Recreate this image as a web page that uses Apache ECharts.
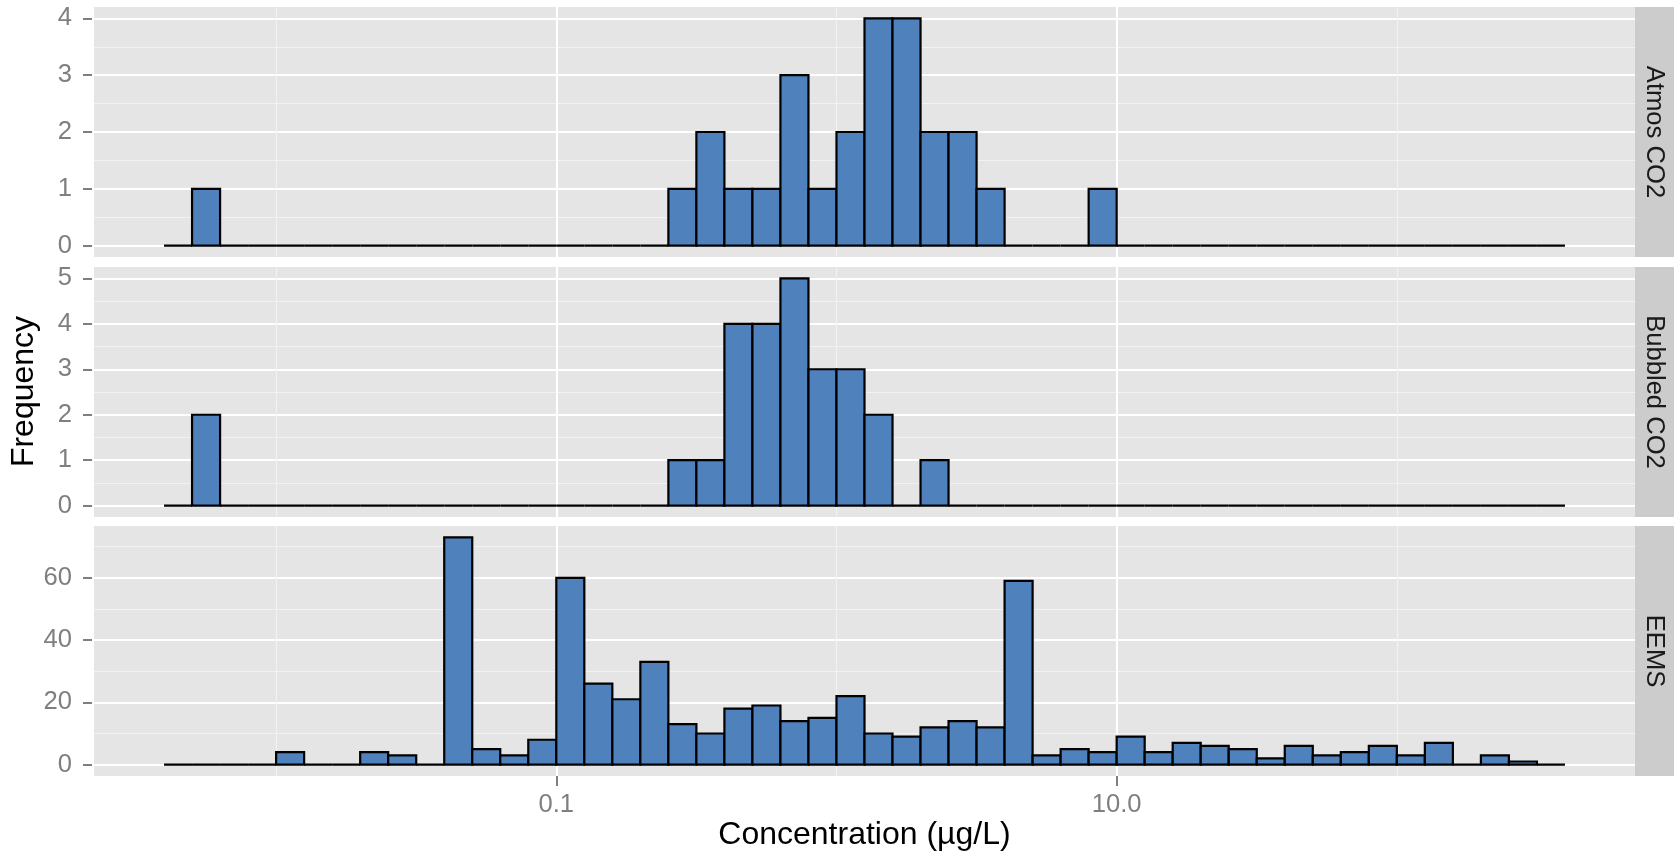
<!DOCTYPE html>
<html><head><meta charset="utf-8">
<script src="https://cdn.jsdelivr.net/npm/echarts@6/dist/echarts.min.js"></script>
<style>html,body{margin:0;padding:0;background:#fff}#c{width:1674px;height:854px}</style>
</head><body><div id="c"></div>
<script>
// ---- data ----
const binStartLog10 = -2.4;     // left edge of first bin, log10(µg/L)
const binWidthLog10 = 0.1;      // bin width in log10 units
const panelNames = ['Atmos CO2', 'Bubbled CO2', 'EEMS'];
const atmosCO2 = [0,1,0,0,0,0,0,0,0,0, 0,0,0,0,0,0,0,0,1,2, 1,1,3,1,2,4,4,2,2,1, 0,0,0,1,0,0,0,0,0,0, 0,0,0,0,0,0,0,0,0,0];
const bubbledCO2 = [0,2,0,0,0,0,0,0,0,0, 0,0,0,0,0,0,0,0,1,1, 4,4,5,3,3,2,0,1,0,0, 0,0,0,0,0,0,0,0,0,0, 0,0,0,0,0,0,0,0,0,0];
const eems = [0,0,0,0,4,0,0,4,3,0, 73,5,3,8,60,26,21,33,13,10, 18,19,14,15,22,10,9,12,14,12, 59,3,5,4,9,4,7,6,5,2, 6,3,4,6,3,7,0,3,1,0];
const xTickValues = [0.1, 10];
const xTickLabels = ['0.1', '10.0'];
const xMinorValues = [0.01, 1, 100];
const yTicks = [[0,1,2,3,4], [0,1,2,3,4,5], [0,20,40,60]];
const yMinor = [[0.5,1.5,2.5,3.5], [0.5,1.5,2.5,3.5,4.5], [10,30,50,70]];
const xTitle = 'Concentration (µg/L)';
const yTitle = 'Frequency';

// ---- layout / style ----
const counts = [atmosCO2, bubbledCO2, eems];
const FONT = "'Liberation Sans', Arial, Helvetica, sans-serif";
const GRID_LEFT = 94, GRID_RIGHT = 39, GRID_H = 250;
const gridTops = [7, 267, 526];
const nBins = eems.length;
const dataLo = binStartLog10, dataHi = binStartLog10 + nBins * binWidthLog10;
const xPad = (dataHi - dataLo) * 0.05;
const xMin = dataLo - xPad, xMax = dataHi + xPad;
const xMajorLog = xTickValues.map(Math.log10);
const xMinorLog = xMinorValues.map(Math.log10);

const grids = [], xAxes = [], yAxes = [], series = [], graphics = [];
counts.forEach((arr, g) => {
  grids.push({left: GRID_LEFT, right: GRID_RIGHT, top: gridTops[g], height: GRID_H,
    show: true, backgroundColor: '#E5E5E5', borderWidth: 0});
  const mx = Math.max(...arr);
  const yMin = -0.05 * mx, yMax = 1.05 * mx;
  // minor x
  xAxes.push({gridIndex: g, type: 'value', position: 'bottom', min: xMin, max: xMax,
    axisLine: {show: false, onZero: false}, axisTick: {show: false, customValues: xMinorLog},
    axisLabel: {show: false}, splitLine: {show: true, lineStyle: {color: '#F2F2F2', width: 1.2}}});
  // major x
  const isBottom = g === counts.length - 1;
  xAxes.push({gridIndex: g, type: 'value', position: 'bottom', min: xMin, max: xMax,
    axisLine: {show: false, onZero: false},
    axisTick: {show: isBottom, customValues: xMajorLog, length: 10, lineStyle: {color: '#7F7F7F', width: 2}},
    axisLabel: {show: isBottom, customValues: xMajorLog, margin: 16, color: '#7F7F7F', fontSize: 25.6, fontFamily: FONT,
      formatter: v => { const k = xMajorLog.findIndex(t => Math.abs(t - v) < 1e-9); return k >= 0 ? xTickLabels[k] : ''; }},
    splitLine: {show: true, lineStyle: {color: '#FFFFFF', width: 2.2}}});
  // minor y
  yAxes.push({gridIndex: g, type: 'value', position: 'left', min: yMin, max: yMax,
    axisLine: {show: false, onZero: false}, axisTick: {show: false, customValues: yMinor[g]},
    axisLabel: {show: false}, splitLine: {show: true, lineStyle: {color: '#F2F2F2', width: 1.2}}});
  // major y
  yAxes.push({gridIndex: g, type: 'value', position: 'left', min: yMin, max: yMax, offset: 2,
    axisLine: {show: false, onZero: false},
    axisTick: {show: true, customValues: yTicks[g], length: 9, lineStyle: {color: '#7F7F7F', width: 2}},
    axisLabel: {show: true, customValues: yTicks[g], margin: 20, color: '#7F7F7F', fontSize: 25.6, fontFamily: FONT},
    splitLine: {show: true, lineStyle: {color: '#FFFFFF', width: 2.2}}});
  series.push({
    type: 'custom', xAxisIndex: 2 * g + 1, yAxisIndex: 2 * g + 1, silent: true,
    data: arr.map((c, i) => [i, c]),
    renderItem: (params, api) => {
      const i = api.value(0), c = api.value(1);
      const x0 = binStartLog10 + i * binWidthLog10;
      const p0 = api.coord([x0, c]);
      const p1 = api.coord([x0 + binWidthLog10, 0]);
      return {type: 'rect',
        shape: {x: p0[0], y: p0[1], width: p1[0] - p0[0], height: p1[1] - p0[1]},
        style: {fill: '#4F81BD', stroke: '#000000', lineWidth: 2.2}};
    }
  });
  // strip
  graphics.push({type: 'rect', shape: {x: 1674 - GRID_RIGHT, y: gridTops[g], width: GRID_RIGHT, height: GRID_H},
    style: {fill: '#CCCCCC'}, z: 0});
  graphics.push({type: 'text', x: 1654, y: gridTops[g] + GRID_H / 2, rotation: -Math.PI / 2, z: 1,
    style: {text: panelNames[g], fill: '#1A1A1A', font: '25.6px ' + FONT, align: 'center', verticalAlign: 'middle'}});
});
graphics.push({type: 'text', x: GRID_LEFT + (1674 - GRID_RIGHT - GRID_LEFT) / 2, y: 835, z: 1,
  style: {text: xTitle, fill: '#000', font: '32px ' + FONT, align: 'center', verticalAlign: 'middle'}});
graphics.push({type: 'text', x: 24, y: (gridTops[0] + gridTops[2] + GRID_H) / 2, rotation: Math.PI / 2, z: 1,
  style: {text: yTitle, fill: '#000', font: '32px ' + FONT, align: 'center', verticalAlign: 'middle'}});

const chart = echarts.init(document.getElementById('c'), null, {renderer: 'canvas'});
chart.setOption({animation: false, backgroundColor: '#FFFFFF',
  grid: grids, xAxis: xAxes, yAxis: yAxes, series: series, graphic: graphics});
</script></body></html>
